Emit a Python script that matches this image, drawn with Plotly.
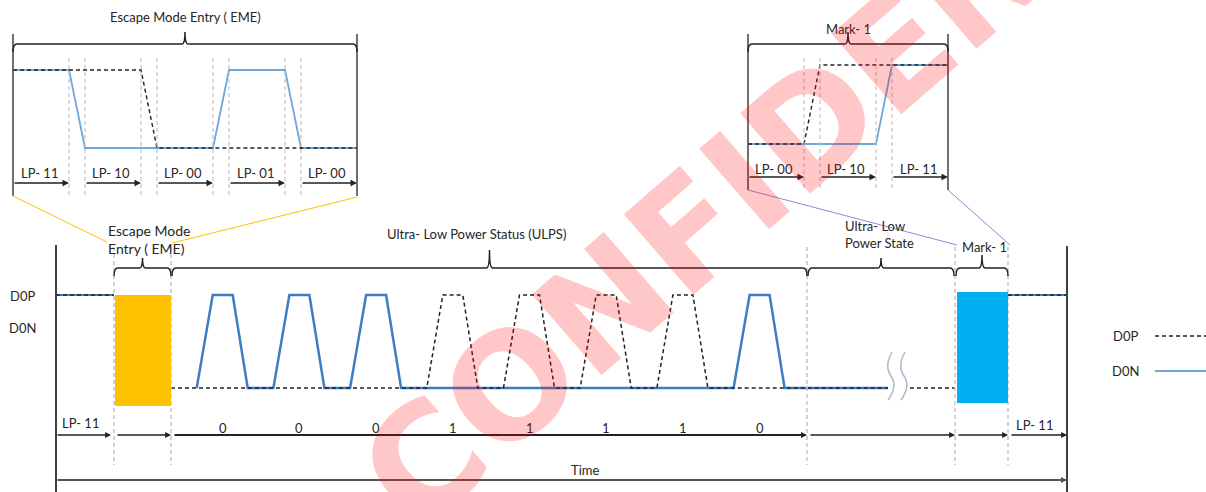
import plotly.graph_objects as go

# ---------------- data ----------------
eme_title = "Escape Mode Entry ( EME)"
eme_states = ["11", "10", "00", "01", "00"]          # LP-<D0P><D0N>
mark1_title = "Mark- 1"
mark1_states = ["00", "10", "11"]
ulps_bits = [0, 0, 0, 1, 1, 1, 1, 0]
main_seg_times = [56, 114, 171, 807, 955, 1008, 1067]  # time-axis boundaries
main_seg_labels = ["LP- 11", "", "", "", "", "LP- 11"]
bracket_labels = ["Escape Mode<br>Entry ( EME)", "Ultra- Low Power Status (ULPS)",
                  "Ultra- Low<br>Power State", "Mark- 1"]
signal_names = ["D0P", "D0N"]
time_label = "Time"
watermark = "CONFIDENTIAL"

# ---------------- styles / layout constants ----------------
W, H = 1206, 492
FONT = "Lato"
TXT = "#262626"
BLUE_MAIN = "#3F7CC4"
BLUE_INSET = "#6FA8DC"
DASH = "4px,3px"
GRAY = "#C4C4C4"
ORANGE = "#FFC000"
CYAN = "#00B0F0"

HI, LO = 295, 388                # main signal levels
T0, LOWW, RISE, TOP, FALL = main_seg_times[2], 25.7, 16, 20, 15
CELL = LOWW + RISE + TOP + FALL
BREAK_A, BREAK_B = 888, 910

fig = go.Figure()
shapes, anns = [], []


def line(x0, y0, x1, y1, color="#333", width=1.5, dash=None):
    d = dict(type="line", xref="x", yref="y", x0=x0, y0=y0, x1=x1, y1=y1,
             line=dict(color=color, width=width))
    if dash:
        d["line"]["dash"] = dash
    shapes.append(d)


def arrow(x0, x1, y, width=1.3, color="#222", size=1.0):
    anns.append(dict(x=x1, y=y, ax=x0, ay=y, xref="x", yref="y", axref="x", ayref="y",
                     text="", showarrow=True, arrowhead=2, arrowsize=size,
                     arrowwidth=width, arrowcolor=color, standoff=0, startstandoff=0))


def text(x, y, s, size=13, xanchor="center", align="center", color=TXT):
    anns.append(dict(x=x, y=y, xref="x", yref="y", text=s, showarrow=False,
                     xanchor=xanchor, yanchor="middle", align=align,
                     font=dict(family=FONT, size=size, color=color)))


def brace(x0, x1, y, ytick, curl=8, color="#222", width=1.5):
    xc = (x0 + x1) / 2
    p = (f"M {x0},{y+curl} Q {x0},{y} {x0+4},{y} L {xc-3},{y} Q {xc},{y} {xc},{ytick} "
         f"Q {xc},{y} {xc+3},{y} L {x1-4},{y} Q {x1},{y} {x1},{y+curl}")
    shapes.append(dict(type="path", xref="x", yref="y", path=p,
                       line=dict(color=color, width=width)))


def add_trace(xs, ys, color, width, dash=None):
    fig.add_trace(go.Scatter(x=xs, y=ys, mode="lines", hoverinfo="skip",
                             line=dict(color=color, width=width, dash=dash),
                             showlegend=False))


def state_wave(states, x0, sw, tw, yhi, ylo, idx):
    xs, ys = [], []
    x = x0
    for s in states:
        lvl = yhi if s[idx] == "1" else ylo
        xs += [x, x + sw]
        ys += [lvl, lvl]
        x += sw + tw
    return xs, ys


def inset(states, title, x0, sw, tw, yhi, ylo, ybr, ytitle, yarr, ylab, ybot):
    n = len(states)
    x1 = x0 + n * sw + (n - 1) * tw
    line(x0, ybr - 10, x0, ybot, "#404040", 1.5)
    line(x1, ybr - 10, x1, ybot, "#404040", 1.5)
    brace(x0, x1, ybr, ybr - 12)
    text((x0 + x1) / 2, ytitle, title, 13)
    for i in range(n - 1):
        e = x0 + (i + 1) * sw + i * tw
        for gx in (e, e + tw):
            line(gx, ybr + 14, gx, ybot, GRAY, 1.2, DASH)
    xs, ys = state_wave(states, x0, sw, tw, yhi, ylo, 1)
    add_trace(xs, ys, BLUE_INSET, 1.8)
    xs, ys = state_wave(states, x0, sw, tw, yhi, ylo, 0)
    add_trace(xs, ys, "#222", 1.4, DASH)
    for i, s in enumerate(states):
        a = x0 + i * (sw + tw)
        arrow(a, a + sw, yarr)
        text(a + sw / 2 - 2, ylab, "LP- " + s, 13)
    return x1


# ---------------- insets ----------------
inset(eme_states, eme_title, 13, 56, 16, 70, 148, 44, 17, 183, 173, 196)
inset(mark1_states, mark1_title, 748, 56, 16, 65, 144, 44, 29, 177, 169, 190)

# connectors
line(13, 196, 107, 242, ORANGE, 1)
line(357, 197, 172, 243, ORANGE, 1)
line(748, 190, 957, 245, "#A57FD6", 1)
line(948, 190, 1010, 245, "#A57FD6", 1)

# ---------------- main diagram ----------------
t = main_seg_times
line(t[0], 245, t[0], 492, "#404040", 2)
line(t[-1], 246, t[-1], 492, "#404040", 2)
for gx in t[1:-1]:
    line(gx, 247, gx, 465, GRAY, 1.5, DASH)

brace(t[1], t[2], 268, 258)
brace(t[2] + 1, t[3], 268, 250)
brace(t[3] + 1, t[4] - 1, 268, 258)
brace(t[4] + 1, t[5], 268, 255)
text(106, 239, bracket_labels[0], 14, xanchor="left", align="left")
text(476, 234, bracket_labels[1], 13)
text(843, 234, bracket_labels[2], 13, xanchor="left", align="left")
text(984, 247, bracket_labels[3], 13)

shapes.append(dict(type="rect", xref="x", yref="y", x0=t[1] + 1, x1=t[2], y0=HI, y1=406,
                   fillcolor=ORANGE, line=dict(width=0)))
shapes.append(dict(type="rect", xref="x", yref="y", x0=t[4] + 2, x1=t[5], y0=292, y1=403,
                   fillcolor=CYAN, line=dict(width=0)))


def ulps_wave(bits, active, start_at_first=False):
    xs, ys = [], []
    for k, b in enumerate(bits):
        s = T0 + k * CELL
        if b == active:
            pts = [(s, LO), (s + LOWW, LO), (s + LOWW + RISE, HI),
                   (s + LOWW + RISE + TOP, HI), (s + CELL, LO)]
        else:
            pts = [(s, LO), (s + CELL, LO)]
        if start_at_first and k == 0:
            pts = pts[1:]
        for px, py in pts:
            xs.append(px)
            ys.append(py)
    xs.append(BREAK_A)
    ys.append(LO)
    return xs, ys


# D0N (solid blue)
add_trace([t[0], t[1]], [HI, HI], BLUE_MAIN, 2.2)
xs, ys = ulps_wave(ulps_bits, 0, start_at_first=True)
add_trace(xs, ys, BLUE_MAIN, 2.5)
add_trace([t[5], t[6]], [HI, HI], BLUE_MAIN, 2)
# D0P (dashed black)
add_trace([t[0], t[1]], [HI, HI], "#222", 1.5, DASH)
xs, ys = ulps_wave(ulps_bits, 1)
add_trace(xs, ys, "#222", 1.5, DASH)
add_trace([BREAK_B, t[4]], [LO, LO], "#222", 1.5, DASH)
add_trace([t[5], t[6]], [HI, HI], "#222", 1.5, DASH)

# break symbol
for off in (0, 13):
    p = (f"M {892+off},352 Q {884+off},366 {891+off},376 Q {898+off},386 {888+off},400")
    shapes.append(dict(type="path", xref="x", yref="y", path=p,
                       line=dict(color="#A9B9CC", width=1.5)))

for k, b in enumerate(ulps_bits):
    text(T0 + k * CELL + LOWW + RISE + TOP / 2, 428, str(b), 13)

for i in range(len(t) - 1):
    a, b = t[i], t[i + 1]
    if i == 2:
        arrow(a + 2, b, 435, width=2, size=0.6)
    else:
        arrow(a + (2 if i else 0), b - (3 if i == 0 else 0), 435, width=1.3, size=0.9)
text(80, 423, main_seg_labels[0], 13)
text(1034, 425, main_seg_labels[-1], 13)

arrow(t[0], t[-1], 480, width=2, color="#555", size=0.6)
text(585, 470, time_label, 13)

text(22, 296, signal_names[0], 13)
text(22, 328, signal_names[1], 13)

text(1125, 336, signal_names[0], 13)
text(1125, 371, signal_names[1], 13)
add_trace([1155, 1206], [336, 336], "#222", 1.5, DASH)
add_trace([1155, 1206], [371, 371], BLUE_INSET, 1.8)

# watermark
anns.append(dict(x=840, y=100, xref="x", yref="y", text="<b>" + watermark + "</b>",
                 showarrow=False, textangle=-41,
                 font=dict(family="DejaVu Sans", size=146, color="rgba(255,0,0,0.22)")))

fig.update_layout(
    width=W, height=H, autosize=False,
    margin=dict(l=0, r=0, t=0, b=0),
    paper_bgcolor="white", plot_bgcolor="white",
    xaxis=dict(range=[0, W], visible=False, fixedrange=True),
    yaxis=dict(range=[H, 0], visible=False, fixedrange=True),
    shapes=shapes, annotations=anns, showlegend=False,
)

fig.write_html("out.html", config={"displayModeBar": False},
               post_script="document.body.style.margin='0';document.body.style.overflow='hidden';")
